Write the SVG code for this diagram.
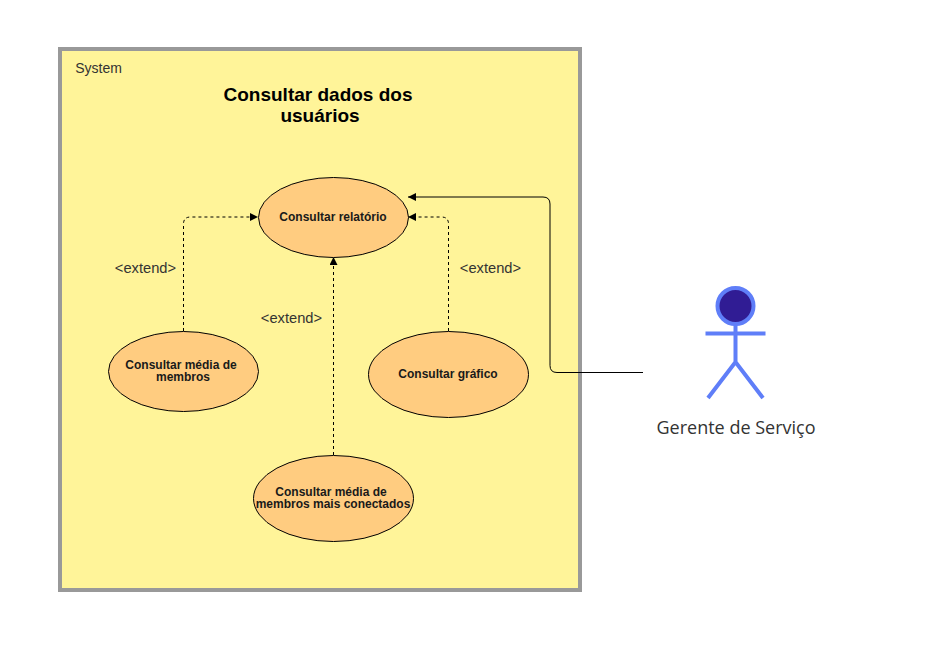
<svg xmlns="http://www.w3.org/2000/svg" width="934" height="652" viewBox="0 0 934 652">
<style>
text{font-family:"Liberation Sans",Arial,sans-serif;fill:#1a1a1a;text-anchor:middle}
.uc{fill:#ffcc80;stroke:#000;stroke-width:1}
.ut{font-size:12px;font-weight:bold}
.lb{font-size:14.700px;fill:#333}
.c{fill:none;stroke:#000;stroke-width:1}
.d{stroke-dasharray:3 3}
</style>
<defs>
<marker id="a" markerUnits="userSpaceOnUse" markerWidth="10" markerHeight="10" refX="8" refY="4" orient="auto"><path d="M0 0L8 4L0 8Z" fill="#000"/></marker>
</defs>
<rect width="934" height="652" fill="#fff"/>
<g id="system">
<rect x="60" y="49" width="520" height="541" fill="#fff499" stroke="#999" stroke-width="4"/>
<text x="98.500" y="73" font-size="14" style="fill:#333">System</text>
<text x="318" y="101" font-size="19" font-weight="bold" style="fill:#000">Consultar dados dos</text>
<text x="320" y="122" font-size="19" font-weight="bold" style="fill:#000">usuários</text>
</g>
<g id="connectors">
<path class="c d" marker-end="url(#a)" d="M183.500 331V224Q183.500 217 190.500 217H258"/>
<path class="c d" marker-end="url(#a)" d="M333.500 455V257"/>
<path class="c d" marker-end="url(#a)" d="M448.500 331V224Q448.500 217 441.500 217H408"/>
<path class="c" marker-end="url(#a)" d="M643 372.500H557Q550 372.500 550 365.500V204Q550 197 543 197H408"/>
</g>
<g id="uc-relatorio"><ellipse class="uc" cx="333.500" cy="217.500" rx="75" ry="40"/><text class="ut" x="333" y="221">Consultar relatório</text></g>
<g id="uc-media"><ellipse class="uc" cx="183.500" cy="371.500" rx="75" ry="40"/><text class="ut"><tspan x="181" y="369">Consultar média de</tspan><tspan x="183" y="381">membros</tspan></text></g>
<g id="uc-grafico"><ellipse class="uc" cx="448.500" cy="374.500" rx="80" ry="43"/><text class="ut" x="448" y="378">Consultar gráfico</text></g>
<g id="uc-conectados"><ellipse class="uc" cx="333.500" cy="498.500" rx="80" ry="43"/><text class="ut"><tspan x="331" y="496">Consultar média de</tspan><tspan x="333" y="508">membros mais conectados</tspan></text></g>
<g id="labels">
<text class="lb" x="145.500" y="273">&lt;extend&gt;</text>
<text class="lb" x="291.500" y="323">&lt;extend&gt;</text>
<text class="lb" x="490.500" y="273">&lt;extend&gt;</text>
</g>
<g id="actor">
<circle cx="735.500" cy="306" r="18" fill="#301c94" stroke="#5f7ef8" stroke-width="4"/>
<path d="M735.500 325V362M705.500 333.500H765.500M708 398L735.500 362L763 398" fill="none" stroke="#5f7ef8" stroke-width="4"/>
<text x="736" y="434" font-size="18" style='font-family:"Open Sans",sans-serif;fill:#333'>Gerente de Serviço</text>
</g>
</svg>
